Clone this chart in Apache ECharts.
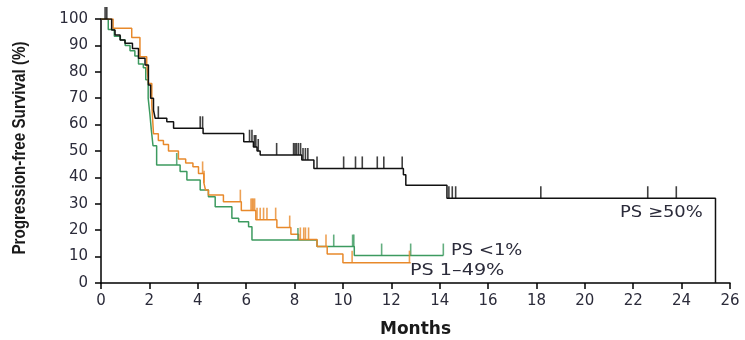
<!DOCTYPE html>
<html>
<head>
<meta charset="utf-8">
<script src="https://cdn.jsdelivr.net/npm/echarts@6/dist/echarts.min.js"></script>
<style>
  html, body { margin: 0; padding: 0; background: #fff; }
  #chart { width: 745px; height: 340px; }
</style>
</head>
<body>
<div id="chart"></div>
<script>
// Kaplan-Meier progression-free survival by PS group.
// Each curve: event times (months) and survival (%) after the step at that time.
const xTicks = [0, 2, 4, 6, 8, 10, 12, 14, 16, 18, 20, 22, 24, 26];
const yTicks = [0, 10, 20, 30, 40, 50, 60, 70, 80, 90, 100];

const highTime = [0, 0.44, 0.58, 0.79, 0.99, 1.3, 1.55, 1.82, 1.96, 2.05, 2.17, 2.24, 2.72, 3.0, 4.22, 5.9, 6.3, 6.45, 6.58, 8.3, 8.8, 12.5, 12.6, 14.3, 25.4];
const highSurv = [100, 95.8, 93.9, 92, 90.8, 88.8, 85.1, 82.6, 75, 70, 65.5, 62.4, 61.1, 58.6, 56.6, 53.5, 51.5, 50, 48.5, 46.6, 43.4, 41, 37, 32.1, 0];
const highCensor = [0.17, 0.24, 2.37, 4.1, 4.2, 6.14, 6.24, 6.34, 6.4, 6.5, 7.26, 7.96, 8.02, 8.08, 8.16, 8.25, 8.35, 8.45, 8.55, 8.93, 10.03, 10.52, 10.8, 11.42, 11.69, 12.45, 14.38, 14.52, 14.66, 18.18, 22.6, 23.78];

const midTime = [0, 0.5, 1.27, 1.61, 1.89, 1.96, 2.1, 2.17, 2.37, 2.58, 2.79, 3.2, 3.5, 3.8, 4.03, 4.25, 4.32, 4.44, 5.06, 5.8, 6.4, 7.27, 7.85, 8.17, 8.93, 9.35, 10.0, 12.8];
const midSurv = [100, 96.5, 93, 85.7, 83.2, 75.6, 67.4, 56.5, 54, 52.5, 50, 47, 45.5, 44, 41.5, 38, 35.2, 33.3, 30.8, 27.5, 24, 21, 18.5, 16.5, 13.8, 11, 7.7, 7.7];
const midCensor = [4.2, 4.26, 5.76, 6.2, 6.25, 6.3, 6.35, 6.45, 6.58, 6.72, 6.86, 7.22, 7.8, 8.24, 8.38, 8.45, 8.58, 9.3, 10.38, 12.75];

const lowTime = [0, 0.3, 0.55, 0.8, 1.0, 1.2, 1.4, 1.55, 1.75, 1.85, 1.95, 2.02, 2.08, 2.15, 2.3, 3.27, 3.55, 4.1, 4.44, 4.72, 5.41, 5.69, 6.1, 6.24, 8.93, 10.47, 14.15];
const lowSurv = [100, 96, 93.5, 92, 90, 88, 86, 83, 81.5, 77, 70, 64, 58, 52, 44.7, 42.2, 39, 35.2, 32.7, 28.9, 24.5, 23.2, 21.3, 16.3, 13.8, 10.4, 10.4];
const lowCensor = [3.13, 8.14, 9.62, 10.4, 10.45, 11.6, 12.8, 14.15];

const groupNames = ['PS \u226550%', 'PS <1%', 'PS 1\u201349%'];
const xTitle = 'Months';
const yTitle = 'Progression-free Survival (%)';

const BLACK = '#111111';
const ORANGE = '#E8892B';
const GREEN = '#3C9A5F';
const TEXT = '#2b2b3a';

function zipPts(ts, ss) { return ts.map((t, i) => [t, ss[i]]); }
function survAt(ts, ss, t) {
  let s = ss[0];
  for (let i = 0; i < ts.length; i++) { if (ts[i] <= t) s = ss[i]; }
  return s;
}
function censorPts(ts, ss, cs) { return cs.map(t => [t, survAt(ts, ss, t)]); }

function curve(name, ts, ss, color) {
  return {
    name: name, type: 'line', step: 'end', data: zipPts(ts, ss),
    showSymbol: false, symbol: 'none', silent: true, animation: false,
    lineStyle: { color: color, width: 1.5 }, z: 3
  };
}
function ticks(name, ts, ss, cs, color) {
  return {
    name: name + ' censored', type: 'scatter', data: censorPts(ts, ss, cs),
    symbol: 'rect', symbolSize: [1.6, 12], symbolOffset: [0, -6],
    itemStyle: { color: color }, silent: true, animation: false, clip: false, z: 4
  };
}

// curve annotations, text slightly widened like the axis labels
function note(text, x, y, sx) {
  return {
    type: 'text', x: x, y: y, scaleX: sx, scaleY: 1,
    style: { text: text, font: '16px "DejaVu Sans"', fill: TEXT, verticalAlign: 'middle' }
  };
}

const chart = echarts.init(document.getElementById('chart'), null, { renderer: 'canvas' });
chart.setOption({
  backgroundColor: '#ffffff',
  animation: false,
  grid: { left: 101, right: 15, top: 19, bottom: 57, containLabel: false, outerBoundsMode: 'none' },
  xAxis: {
    type: 'value', min: xTicks[0], max: xTicks[xTicks.length - 1], interval: 2,
    name: xTitle, nameLocation: 'middle', nameGap: 38,
    nameTextStyle: { fontFamily: 'DejaVu Sans', fontWeight: 'bold', fontSize: 17, color: '#1a1a1a' },
    axisLine: { lineStyle: { color: '#000', width: 1.5 } },
    axisTick: { length: 6, lineStyle: { color: '#000', width: 1.5 } },
    axisLabel: { margin: 11, fontFamily: 'DejaVu Sans', fontSize: 15, color: TEXT },
    splitLine: { show: false }
  },
  yAxis: {
    type: 'value', min: yTicks[0], max: yTicks[yTicks.length - 1], interval: 10,
    axisLine: { show: true, lineStyle: { color: '#000', width: 1.5 } },
    axisTick: { show: true, length: 6, lineStyle: { color: '#000', width: 1.5 } },
    axisLabel: { margin: 13, fontFamily: 'DejaVu Sans', fontSize: 15, color: TEXT },
    splitLine: { show: false }
  },
  series: [
    curve(groupNames[1], lowTime, lowSurv, GREEN),
    curve(groupNames[2], midTime, midSurv, ORANGE),
    curve(groupNames[0], highTime, highSurv, BLACK),
    ticks(groupNames[1], lowTime, lowSurv, lowCensor, GREEN),
    ticks(groupNames[2], midTime, midSurv, midCensor, ORANGE),
    ticks(groupNames[0], highTime, highSurv, highCensor, BLACK)
  ],
  graphic: [
    note(groupNames[0], 620, 213, 1.12),
    note(groupNames[1], 451, 251, 1.12),
    note(groupNames[2], 410, 271, 1.2),
    {
      type: 'text', x: 20, y: 148, rotation: Math.PI / 2, scaleX: 1.05, scaleY: 1.25,
      style: { text: yTitle, font: 'bold 14.5px "Liberation Sans"', fill: '#1a1a1a', align: 'center', verticalAlign: 'middle' }
    }
  ]
});
</script>
</body>
</html>
